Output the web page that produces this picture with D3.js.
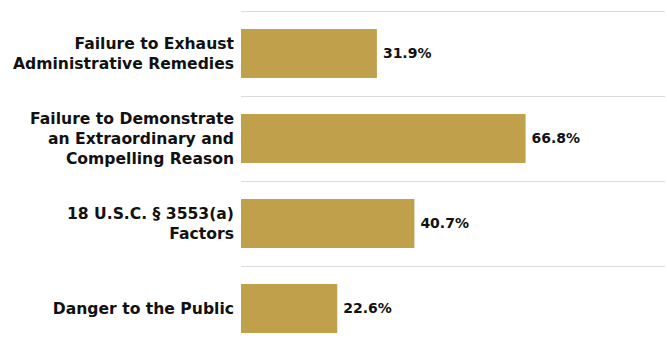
<!DOCTYPE html>
<html>
<head>
<meta charset="utf-8">
<script src="https://cdn.jsdelivr.net/npm/d3@7"></script>
<style>
  html, body { margin: 0; padding: 0; background: #fff; }
  svg { display: block; }
  text { font-family: "DejaVu Sans", "Open Sans", sans-serif; font-weight: bold; fill: #111; }
</style>
</head>
<body>
<svg id="chart" width="667" height="344"></svg>
<script>
// Reasons cited for denial (share of cases, %)
const categories = [
  ["Failure to Exhaust", "Administrative Remedies"],
  ["Failure to Demonstrate", "an Extraordinary and", "Compelling Reason"],
  ["18 U.S.C. § 3553(a)", "Factors"],
  ["Danger to the Public"]
];
const values = [31.9, 66.8, 40.7, 22.6];

const width = 667, height = 344;
const margin = { top: 11, right: 1, bottom: -7, left: 241 };
const barColor = "#c0a04a";
const gridColor = "#dcdcdc";
const labelSize = 15.6;
const valueSize = 14;

const svg = d3.select("#chart");

const ids = categories.map((_, i) => i);

// Each row is a full band; grid lines sit on the row boundaries.
const row = d3.scaleBand()
  .domain(ids)
  .range([margin.top, height - margin.bottom])
  .padding(0);

// Bars occupy the middle of each row.
const barFrac = 0.576;
const x = d3.scaleLinear()
  .domain([0, 100])
  .range([margin.left, width - margin.right + 1]);

// Grid lines
svg.append("g")
  .selectAll("line")
  .data(ids)
  .join("line")
  .attr("x1", x(0))
  .attr("x2", x(100) - 2)
  .attr("y1", d => Math.round(row(d)) + 0.5)
  .attr("y2", d => Math.round(row(d)) + 0.5)
  .attr("stroke", gridColor)
  .attr("stroke-width", 1);

const bw = row.bandwidth() * barFrac;
const barY = d => row(d) + (row.bandwidth() - bw) / 2;

// Bars
svg.append("g")
  .selectAll("rect")
  .data(ids)
  .join("rect")
  .attr("x", x(0))
  .attr("y", barY)
  .attr("width", d => x(values[d]) - x(0))
  .attr("height", bw)
  .attr("fill", barColor);

// Value labels
svg.append("g")
  .selectAll("text")
  .data(ids)
  .join("text")
  .attr("x", d => x(values[d]) + 6)
  .attr("y", d => barY(d) + bw / 2)
  .attr("dy", "0.35em")
  .style("font-size", valueSize + "px")
  .text(d => values[d].toFixed(1) + "%");

// Category labels (multi-line, right-aligned, vertically centred on the bar)
const lineH = 20;
const labels = svg.append("g")
  .selectAll("text")
  .data(ids)
  .join("text")
  .attr("text-anchor", "end")
  .style("font-size", labelSize + "px")
  .attr("y", d => barY(d) + bw / 2);

labels.each(function (d) {
  const lines = categories[d];
  const t = d3.select(this);
  lines.forEach((ln, j) => {
    t.append("tspan")
      .attr("x", x(0) - 7)
      .attr("dy", j === 0 ? ((0.36 * labelSize) - (lines.length - 1) * lineH / 2) + "px" : lineH + "px")
      .text(ln);
  });
});
</script>
</body>
</html>
